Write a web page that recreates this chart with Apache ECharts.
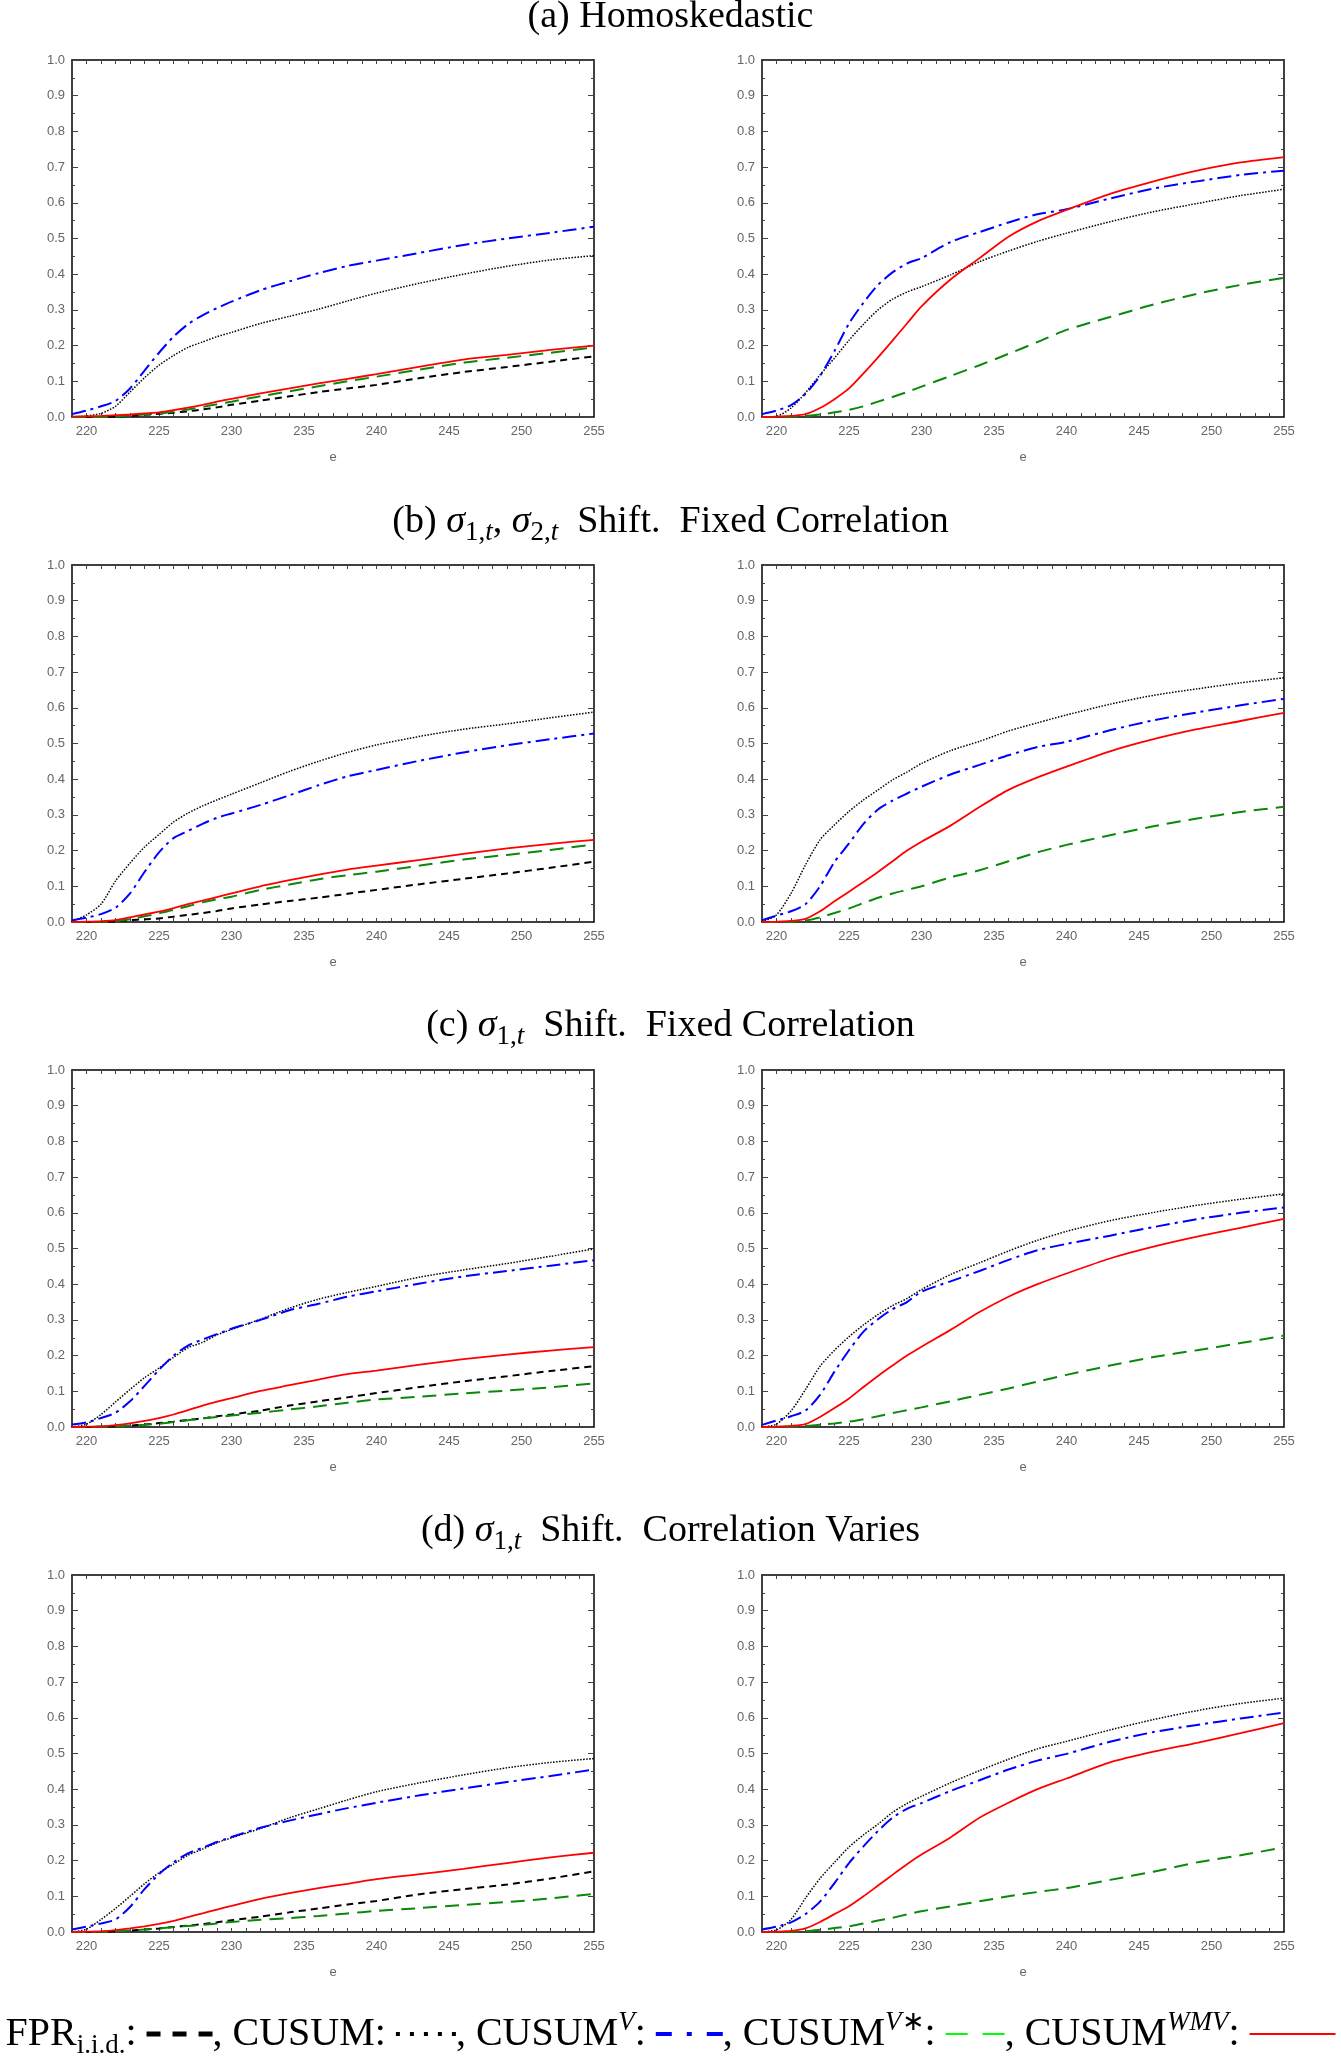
<!DOCTYPE html>
<html>
<head>
<meta charset="utf-8">
<script src="https://cdn.jsdelivr.net/npm/echarts@6/dist/echarts.min.js"></script>
<style>
  html, body { margin: 0; padding: 0; background: #fff; }
  #main { width: 1341px; height: 2056px; }
</style>
</head>
<body>
<div id="main"></div>
<script>
// e values (x axis)
var xs = [219, 220, 221, 222, 223, 224, 225, 226, 227, 228, 229, 230, 232, 234, 236, 238, 240, 243, 246, 249, 252, 255];

// (a) Homoskedastic, left
var aL_fpr = [0, 0, 0, 0.001, 0.003, 0.006, 0.009, 0.012, 0.016, 0.021, 0.027, 0.034, 0.046, 0.058, 0.07, 0.08, 0.09, 0.109, 0.126, 0.14, 0.155, 0.17];
var aL_cusum = [0, 0.003, 0.01, 0.03, 0.07, 0.11, 0.145, 0.172, 0.195, 0.21, 0.225, 0.237, 0.262, 0.282, 0.302, 0.325, 0.347, 0.375, 0.4, 0.422, 0.44, 0.452];
var aL_cusumV = [0.008, 0.018, 0.03, 0.045, 0.08, 0.13, 0.18, 0.225, 0.26, 0.285, 0.305, 0.323, 0.355, 0.38, 0.403, 0.423, 0.438, 0.46, 0.482, 0.5, 0.516, 0.533];
var aL_vstar = [0, 0, 0, 0.002, 0.004, 0.007, 0.01, 0.015, 0.021, 0.028, 0.036, 0.043, 0.058, 0.072, 0.086, 0.1, 0.113, 0.133, 0.152, 0.166, 0.18, 0.195];
var aL_wmv = [0.001, 0.002, 0.003, 0.005, 0.007, 0.01, 0.013, 0.019, 0.026, 0.034, 0.043, 0.051, 0.066, 0.08, 0.094, 0.107, 0.12, 0.141, 0.161, 0.174, 0.188, 0.2];
// (a) right
var aR_cusum = [0, 0.002, 0.025, 0.068, 0.118, 0.165, 0.215, 0.26, 0.3, 0.33, 0.35, 0.365, 0.398, 0.435, 0.465, 0.492, 0.515, 0.547, 0.575, 0.598, 0.62, 0.638];
var aR_cusumV = [0.008, 0.018, 0.033, 0.065, 0.115, 0.185, 0.262, 0.32, 0.37, 0.405, 0.43, 0.445, 0.49, 0.518, 0.545, 0.568, 0.582, 0.612, 0.64, 0.66, 0.678, 0.69];
var aR_vstar = [0, 0, 0.001, 0.003, 0.007, 0.013, 0.02, 0.03, 0.043, 0.056, 0.07, 0.085, 0.115, 0.145, 0.177, 0.21, 0.244, 0.28, 0.315, 0.345, 0.37, 0.39];
var aR_wmv = [0, 0.001, 0.003, 0.008, 0.025, 0.05, 0.08, 0.122, 0.167, 0.214, 0.262, 0.31, 0.385, 0.445, 0.505, 0.548, 0.58, 0.625, 0.66, 0.69, 0.713, 0.728];

// (b) sigma1, sigma2 shift, fixed correlation
var bL_fpr = [0, 0, 0, 0.002, 0.005, 0.008, 0.01, 0.015, 0.02, 0.025, 0.031, 0.038, 0.049, 0.059, 0.068, 0.079, 0.09, 0.106, 0.121, 0.136, 0.152, 0.169];
var bL_cusum = [0.002, 0.02, 0.05, 0.115, 0.165, 0.21, 0.245, 0.28, 0.305, 0.325, 0.342, 0.358, 0.39, 0.422, 0.45, 0.475, 0.496, 0.52, 0.54, 0.555, 0.572, 0.588];
var bL_cusumV = [0.005, 0.012, 0.022, 0.04, 0.08, 0.14, 0.195, 0.235, 0.255, 0.275, 0.292, 0.304, 0.328, 0.355, 0.383, 0.408, 0.426, 0.452, 0.475, 0.495, 0.512, 0.528];
var bL_vstar = [0, 0, 0.001, 0.003, 0.008, 0.016, 0.024, 0.034, 0.044, 0.055, 0.064, 0.071, 0.09, 0.105, 0.12, 0.131, 0.141, 0.158, 0.175, 0.188, 0.202, 0.217];
var bL_wmv = [0, 0.001, 0.002, 0.005, 0.013, 0.021, 0.029, 0.039, 0.05, 0.06, 0.07, 0.08, 0.1, 0.117, 0.133, 0.147, 0.158, 0.174, 0.191, 0.206, 0.219, 0.23];
var bR_cusum = [0, 0.02, 0.08, 0.16, 0.23, 0.272, 0.31, 0.342, 0.37, 0.398, 0.42, 0.444, 0.48, 0.506, 0.535, 0.558, 0.58, 0.61, 0.635, 0.653, 0.67, 0.684];
var bR_cusumV = [0.005, 0.018, 0.03, 0.05, 0.1, 0.168, 0.22, 0.275, 0.315, 0.34, 0.36, 0.379, 0.413, 0.44, 0.467, 0.49, 0.505, 0.537, 0.565, 0.587, 0.607, 0.625];
var bR_vstar = [0, 0, 0.001, 0.004, 0.013, 0.025, 0.038, 0.053, 0.068, 0.08, 0.09, 0.1, 0.125, 0.145, 0.17, 0.195, 0.216, 0.243, 0.268, 0.29, 0.308, 0.323];
var bR_wmv = [0, 0.001, 0.003, 0.009, 0.03, 0.058, 0.085, 0.112, 0.14, 0.17, 0.2, 0.225, 0.27, 0.322, 0.37, 0.405, 0.435, 0.478, 0.512, 0.54, 0.563, 0.586];

// (c) sigma1 shift, fixed correlation
var cL_fpr = [0, 0, 0.001, 0.002, 0.004, 0.007, 0.011, 0.015, 0.02, 0.024, 0.03, 0.035, 0.046, 0.06, 0.072, 0.083, 0.095, 0.112, 0.128, 0.142, 0.157, 0.17];
var cL_cusum = [0, 0.008, 0.035, 0.07, 0.105, 0.138, 0.165, 0.195, 0.222, 0.237, 0.258, 0.273, 0.302, 0.333, 0.358, 0.377, 0.394, 0.42, 0.44, 0.458, 0.478, 0.499];
var cL_cusumV = [0.007, 0.013, 0.025, 0.04, 0.072, 0.115, 0.16, 0.2, 0.228, 0.245, 0.26, 0.275, 0.3, 0.327, 0.345, 0.365, 0.38, 0.402, 0.422, 0.437, 0.452, 0.467];
var cL_vstar = [0, 0, 0.001, 0.002, 0.004, 0.006, 0.009, 0.014, 0.019, 0.024, 0.028, 0.032, 0.04, 0.049, 0.058, 0.068, 0.077, 0.085, 0.094, 0.102, 0.111, 0.122];
var cL_wmv = [0, 0.001, 0.002, 0.005, 0.01, 0.017, 0.025, 0.035, 0.047, 0.06, 0.071, 0.081, 0.101, 0.117, 0.133, 0.148, 0.158, 0.175, 0.19, 0.203, 0.214, 0.224];
var cR_cusum = [0, 0.008, 0.045, 0.105, 0.17, 0.215, 0.253, 0.286, 0.315, 0.34, 0.36, 0.385, 0.427, 0.46, 0.493, 0.523, 0.548, 0.578, 0.601, 0.621, 0.638, 0.653];
var cR_cusumV = [0.006, 0.018, 0.03, 0.046, 0.09, 0.155, 0.215, 0.267, 0.302, 0.33, 0.35, 0.379, 0.408, 0.437, 0.468, 0.495, 0.513, 0.536, 0.56, 0.582, 0.6, 0.615];
var cR_vstar = [0, 0, 0.001, 0.003, 0.006, 0.01, 0.015, 0.022, 0.03, 0.039, 0.047, 0.055, 0.072, 0.09, 0.108, 0.127, 0.146, 0.172, 0.196, 0.215, 0.235, 0.256];
var cR_wmv = [0, 0.001, 0.003, 0.008, 0.028, 0.053, 0.08, 0.112, 0.143, 0.172, 0.2, 0.225, 0.272, 0.322, 0.365, 0.4, 0.43, 0.472, 0.505, 0.533, 0.558, 0.583];

// (d) sigma1 shift, correlation varies
var dL_fpr = [0, 0, 0, 0.002, 0.004, 0.007, 0.01, 0.014, 0.018, 0.022, 0.027, 0.033, 0.043, 0.055, 0.066, 0.077, 0.087, 0.106, 0.12, 0.133, 0.15, 0.17];
var dL_cusum = [0, 0.008, 0.035, 0.066, 0.1, 0.135, 0.166, 0.19, 0.215, 0.232, 0.25, 0.264, 0.29, 0.32, 0.345, 0.37, 0.393, 0.418, 0.44, 0.46, 0.475, 0.486];
var dL_cusumV = [0.007, 0.015, 0.024, 0.035, 0.07, 0.12, 0.162, 0.195, 0.22, 0.236, 0.252, 0.266, 0.292, 0.312, 0.33, 0.347, 0.362, 0.383, 0.402, 0.42, 0.437, 0.455];
var dL_vstar = [0, 0, 0.001, 0.002, 0.004, 0.007, 0.01, 0.014, 0.017, 0.02, 0.024, 0.028, 0.034, 0.039, 0.045, 0.052, 0.059, 0.067, 0.076, 0.084, 0.094, 0.107];
var dL_wmv = [0, 0.001, 0.002, 0.005, 0.01, 0.016, 0.023, 0.031, 0.042, 0.052, 0.063, 0.073, 0.093, 0.109, 0.123, 0.135, 0.148, 0.162, 0.177, 0.193, 0.209, 0.222];
var dR_cusum = [0, 0.006, 0.035, 0.095, 0.15, 0.195, 0.238, 0.272, 0.302, 0.335, 0.36, 0.38, 0.418, 0.452, 0.484, 0.513, 0.534, 0.566, 0.595, 0.62, 0.64, 0.655];
var dR_cusumV = [0.007, 0.015, 0.027, 0.05, 0.085, 0.137, 0.193, 0.24, 0.283, 0.32, 0.345, 0.361, 0.395, 0.425, 0.455, 0.48, 0.499, 0.533, 0.56, 0.58, 0.598, 0.615];
var dR_vstar = [0, 0, 0.001, 0.002, 0.006, 0.011, 0.016, 0.024, 0.032, 0.04, 0.049, 0.058, 0.072, 0.086, 0.1, 0.112, 0.123, 0.146, 0.169, 0.195, 0.215, 0.237];
var dR_wmv = [0, 0.001, 0.003, 0.01, 0.028, 0.05, 0.072, 0.1, 0.13, 0.16, 0.19, 0.217, 0.265, 0.32, 0.362, 0.4, 0.43, 0.475, 0.505, 0.53, 0.557, 0.585];

// panels: left column has 5 curves, right column 4 (no FPR)
var panels = [
  [aL_fpr, aL_cusum, aL_cusumV, aL_vstar, aL_wmv],
  [null, aR_cusum, aR_cusumV, aR_vstar, aR_wmv],
  [bL_fpr, bL_cusum, bL_cusumV, bL_vstar, bL_wmv],
  [null, bR_cusum, bR_cusumV, bR_vstar, bR_wmv],
  [cL_fpr, cL_cusum, cL_cusumV, cL_vstar, cL_wmv],
  [null, cR_cusum, cR_cusumV, cR_vstar, cR_wmv],
  [dL_fpr, dL_cusum, dL_cusumV, dL_vstar, dL_wmv],
  [null, dR_cusum, dR_cusumV, dR_vstar, dR_wmv]
];

var names = ["FPR i.i.d.", "CUSUM", "CUSUM V", "CUSUM V*", "CUSUM WMV"];
var styles = [
  { color: "#000000", width: 2, type: [7, 5] },
  { color: "#000000", width: 1.5, type: [1.5, 1.5] },
  { color: "#0000ff", width: 2, type: [14, 5, 3, 5] },
  { color: "#0a880a", width: 2, type: [14, 8] },
  { color: "#ff0000", width: 1.8, type: "solid" }
];

var SANS = "Liberation Sans";
var SERIF = "Liberation Serif";
var lblColor = "#666";

var colLeft = [72, 762];
var rowTop = [60, 565, 1070, 1575];
var titleY = [17, 522, 1026, 1531];

function smart_grid() {
  var myChart = echarts.init(document.getElementById("main"));
  var grid = [], xAxis = [], yAxis = [], series = [];

  for (var g = 0; g < 8; g++) {
    grid.push({
      left: colLeft[g % 2],
      top: rowTop[Math.floor(g / 2)],
      width: 522,
      height: 357,
      outerBoundsMode: "none"
    });
    // bottom axis with labels, top axis only for the box and ticks
    for (var t = 0; t < 2; t++) {
      xAxis.push({
        gridIndex: g,
        type: "value",
        min: 219,
        max: 255,
        interval: 1,
        position: t ? "top" : "bottom",
        name: t ? "" : "e",
        nameLocation: "middle",
        nameGap: 34,
        nameTextStyle: { color: lblColor, fontSize: 13, fontFamily: SANS },
        axisLine: { show: true, onZero: false, lineStyle: { color: "#000", width: 1.5 } },
        axisTick: { show: true, inside: true, length: 4, lineStyle: { color: "#444" } },
        axisLabel: {
          show: !t,
          margin: 8,
          color: lblColor,
          fontSize: 13,
          fontFamily: SANS,
          formatter: function (v) { return Math.round(v) % 5 === 0 ? String(Math.round(v)) : ""; }
        },
        splitLine: { show: false }
      });
      yAxis.push({
        gridIndex: g,
        type: "value",
        min: 0,
        max: 1,
        interval: 0.1,
        position: t ? "right" : "left",
        axisLine: { show: true, onZero: false, lineStyle: { color: "#000", width: 1.5 } },
        axisTick: { show: true, inside: true, length: 6, lineStyle: { color: "#444" } },
        minorTick: { show: true, splitNumber: 2, length: 3, lineStyle: { color: "#444" } },
        axisLabel: {
          show: !t,
          margin: 7,
          color: lblColor,
          fontSize: 13,
          fontFamily: SANS,
          formatter: function (v) { return v.toFixed(1); }
        },
        splitLine: { show: false }
      });
    }
    for (var s = 0; s < 5; s++) {
      var vals = panels[g][s];
      if (!vals) continue;
      var pts = [];
      for (var i = 0; i < xs.length; i++) pts.push([xs[i], vals[i]]);
      series.push({
        name: names[s],
        type: "line",
        xAxisIndex: g * 2,
        yAxisIndex: g * 2,
        data: pts,
        symbol: "none",
        smooth: 0.25,
        lineStyle: styles[s],
        z: 2 + s
      });
    }
  }

  function txt(size, extra) {
    var o = { fontFamily: SERIF, fontSize: size, fontWeight: "normal", color: "#000" };
    for (var k in extra) o[k] = extra[k];
    return o;
  }
  function makeRich(FS, SS, LH) {
    return {
      n: txt(FS, { lineHeight: LH }),
      it: txt(FS, { lineHeight: LH, fontStyle: "italic" }),
      sb: txt(SS, { lineHeight: 24, verticalAlign: "bottom" }),
      sbi: txt(SS, { lineHeight: 24, verticalAlign: "bottom", fontStyle: "italic" }),
      sp: txt(SS, { lineHeight: 24, verticalAlign: "top" }),
      spi: txt(SS, { lineHeight: 24, verticalAlign: "top", fontStyle: "italic" }),
      th: txt(FS, { lineHeight: LH, width: 4 }),
      k: { width: 14, height: 5, backgroundColor: "#000" },
      gk: { width: 12 },
      dt: { width: 4, height: 4, backgroundColor: "#000" },
      gd: { width: 10 },
      bd: { width: 16, height: 4, backgroundColor: "#0000ff" },
      bp: { width: 5, height: 4, backgroundColor: "#0000ff" },
      gb: { width: 15 },
      gr: { width: 22, height: 2, backgroundColor: "#00ff00" },
      gg: { width: 15 },
      rl: { width: 86, height: 2, backgroundColor: "#ff0000" }
    };
  }
  var titleRich = makeRich(38, 27, 48);
  var legendRich = makeRich(40, 27, 50);

  var titles = [
    "{n|(a) Homoskedastic}",
    "{n|(b) }{it|σ}{sb|1,}{sbi|t}{n|, }{it|σ}{sb|2,}{sbi|t}{n|  Shift.  Fixed Correlation}",
    "{n|(c) }{it|σ}{sb|1,}{sbi|t}{n|  Shift.  Fixed Correlation}",
    "{n|(d) }{it|σ}{sb|1,}{sbi|t}{n|  Shift.  Correlation Varies}"
  ];
  var title = [];
  for (var r = 0; r < 4; r++) {
    title.push({
      text: titles[r],
      left: "center",
      top: titleY[r] - 24,
      padding: 0,
      textStyle: { rich: titleRich, fontFamily: SERIF, fontWeight: "normal", fontSize: 38, lineHeight: 48, color: "#000" }
    });
  }
  // legend line written out like the paper's caption
  title.push({
    text: "{n|FPR}{sb|i.i.d.}{n|: }{k| }{gk| }{k| }{gk| }{k| }{n|, CUSUM: }{dt| }{gd| }{dt| }{gd| }{dt| }{gd| }{dt| }{gd| }{dt| }" +
      "{n|, CUSUM}{spi|V}{n|: }{bd| }{gb| }{bp| }{gb| }{bd| }{n|, CUSUM}{spi|V}{sp|∗}{n|: }{gr| }{gg| }{gr| }" +
      "{n|, CUSUM}{spi|WMV}{n|: }{rl| }",
    left: "center",
    top: 2034 - 25,
    padding: 0,
    textStyle: { rich: legendRich, fontFamily: SERIF, fontWeight: "normal", fontSize: 40, lineHeight: 50, color: "#000" }
  });

  option = {
    animation: false,
    backgroundColor: "#ffffff",
    title: title,
    grid: grid,
    xAxis: xAxis,
    yAxis: yAxis,
    series: series
  };

  myChart.setOption(option);

  window.addEventListener("resize", function () {
    myChart.resize();
  });
}
smart_grid();
</script>
</body>
</html>
